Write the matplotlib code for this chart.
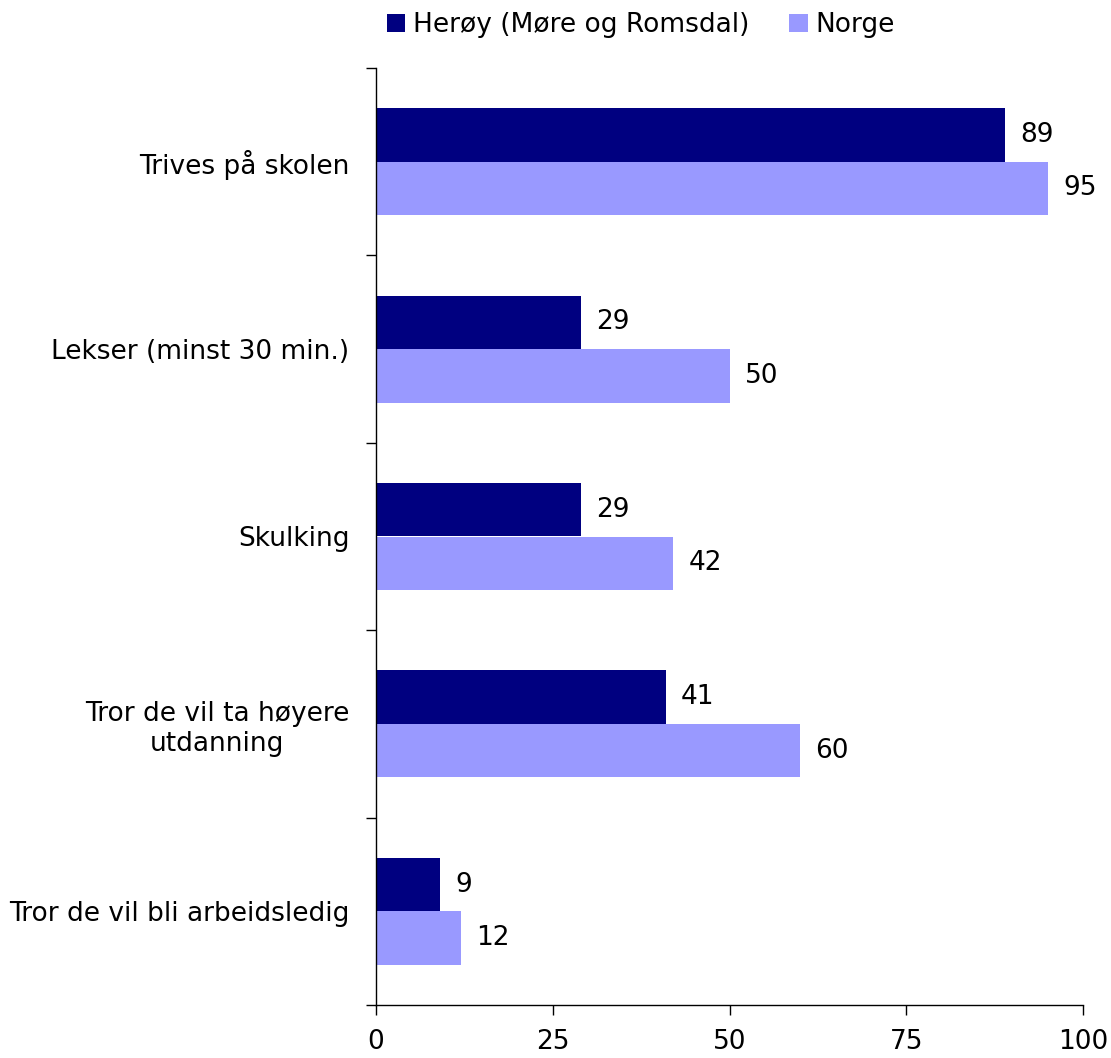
import matplotlib
matplotlib.use("Agg")
import matplotlib.pyplot as plt
import numpy as np
from matplotlib.patches import Patch

categories = ["Trives på skolen", "Lekser (minst 30 min.)", "Skulking",
              "Tror de vil ta høyere\nutdanning", "Tror de vil bli arbeidsledig"]
heroy = [89, 29, 29, 41, 9]
norge = [95, 50, 42, 60, 12]
series_names = ["Herøy (Møre og Romsdal)", "Norge"]
xticks = [0, 25, 50, 75, 100]

c_dark = "#000080"
c_light = "#9999FF"
FS = 19

plt.rcParams['font.family'] = ['DejaVu Sans']
fig = plt.figure(figsize=(11.11, 10.58), dpi=100)
ax = fig.add_axes([376/1111, 1-1005/1058, (1083-376)/1111, (1005-68)/1058])

y = np.arange(len(categories))
h = 0.285
b1 = ax.barh(y - h/2, heroy, height=h, color=c_dark)
b2 = ax.barh(y + h/2, norge, height=h, color=c_light)

for bars, vals in ((b1, heroy), (b2, norge)):
    for r, v in zip(bars, vals):
        ax.annotate(f"{v}", (r.get_width(), r.get_y() + r.get_height()/2),
                    xytext=(11, 0), textcoords="offset points",
                    ha="left", va="center", fontsize=FS, color="black")

ax.set_xlim(0, 100)
ax.set_ylim(len(categories) - 0.5, -0.5)
ax.set_xticks(xticks)
ax.set_xticklabels([str(t) for t in xticks], fontsize=FS)
ax.set_yticks(np.arange(-0.5, len(categories), 1.0))
ax.set_yticklabels([])
ax.set_yticks(y, minor=True)
ax.set_yticklabels(categories, minor=True, fontsize=FS, multialignment="center")
ax.tick_params(axis="y", which="minor", length=0, pad=19)
ax.tick_params(axis="y", which="major", length=7, direction="out", width=1)
ax.tick_params(axis="x", length=7, direction="out", width=1, pad=10)
for s in ("top", "right"):
    ax.spines[s].set_visible(False)
for s in ("left", "bottom"):
    ax.spines[s].set_linewidth(1)

handles = [Patch(facecolor=c_dark, label=series_names[0]),
           Patch(facecolor=c_light, label=series_names[1])]
fig.legend(handles=handles, loc="center", bbox_to_anchor=(641/1111, 1-25/1058),
           ncol=2, frameon=False, fontsize=FS, handlelength=0.7, handleheight=0.7,
           handletextpad=0.3, columnspacing=1.5)

fig.savefig("out.png", dpi=100)
